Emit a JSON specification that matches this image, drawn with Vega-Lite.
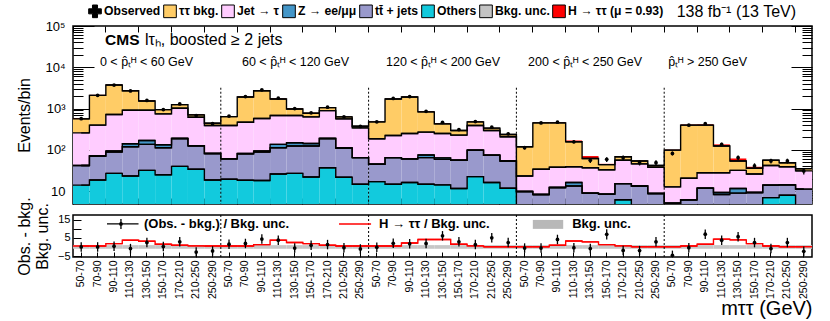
{
  "$schema": "https://vega.github.io/schema/vega-lite/v6.json",
  "background": "white",
  "autosize": {"type": "pad"},
  "padding": {"left": 15, "top": 3, "right": 0, "bottom": 0},
  "spacing": 11,
  "bounds": "flush",
  "resolve": {"legend": {"color": "independent", "shape": "independent"}},
  "config": {
    "font": "Liberation Sans",
    "view": {"stroke": "black", "strokeWidth": 1.5},
    "axis": {"grid": false, "domain": false, "tickColor": "black", "labelColor": "black", "titleColor": "black", "labelFont": "Liberation Sans", "titleFont": "Liberation Sans", "tickWidth": 1},
    "text": {"font": "Liberation Sans", "color": "black"}
  },
  "datasets": {
    "d": [
      {"i":0,"oth":14,"ttj":42,"z":42,"jet":259,"ztt":564,"h":575,"obs":570,"oe":24,"pull":0,"pe":2.6,"sr":0.5},
      {"i":1,"oth":18.7,"ttj":71,"z":71,"jet":397,"ztt":2096,"h":2150,"obs":2096,"oe":46,"pull":0,"pe":2.6,"sr":0.5},
      {"i":2,"oth":27,"ttj":89,"z":94,"jet":717,"ztt":3716,"h":3800,"obs":3716,"oe":61,"pull":0.4,"pe":2.6,"sr":1.8},
      {"i":3,"oth":23.4,"ttj":119,"z":141,"jet":912,"ztt":2716,"h":2800,"obs":2680,"oe":52,"pull":-0.9,"pe":2.6,"sr":3.7},
      {"i":4,"oth":32,"ttj":136,"z":169,"jet":912,"ztt":1531,"h":1590,"obs":1580,"oe":40,"pull":2.4,"pe":2.6,"sr":3.1},
      {"i":5,"oth":25,"ttj":113,"z":133,"jet":744,"ztt":946,"h":975,"obs":950,"oe":31,"pull":0.2,"pe":2.6,"sr":1.5},
      {"i":6,"oth":40,"ttj":189,"z":189,"jet":1019,"ztt":1248,"h":1270,"obs":1300,"oe":36,"pull":2.8,"pe":2.6,"sr":0.9},
      {"i":7,"oth":34,"ttj":126,"z":126,"jet":618,"ztt":704,"h":715,"obs":680,"oe":26,"pull":-2.8,"pe":2.6,"sr":0.6},
      {"i":8,"oth":18.7,"ttj":82,"z":82,"jet":389,"ztt":443,"h":450,"obs":430,"oe":21,"pull":-2.2,"pe":2.6,"sr":0.5},
      {"i":9,"oth":19.5,"ttj":61,"z":61,"jet":389,"ztt":641,"h":650,"obs":660,"oe":26,"pull":1.5,"pe":2.6,"sr":0.5},
      {"i":10,"oth":18.4,"ttj":81,"z":82,"jet":469,"ztt":1910,"h":1960,"obs":1960,"oe":44,"pull":1.9,"pe":2.6,"sr":0.5},
      {"i":11,"oth":18.1,"ttj":89,"z":94,"jet":574,"ztt":2716,"h":2780,"obs":2850,"oe":53,"pull":4.3,"pe":2.6,"sr":1.3},
      {"i":12,"oth":26,"ttj":113,"z":136,"jet":678,"ztt":1710,"h":1760,"obs":1790,"oe":42,"pull":3.7,"pe":2.6,"sr":3.7},
      {"i":13,"oth":27,"ttj":124,"z":149,"jet":678,"ztt":982,"h":1020,"obs":1000,"oe":32,"pull":-0.6,"pe":2.6,"sr":2.4},
      {"i":14,"oth":22,"ttj":124,"z":143,"jet":630,"ztt":773,"h":790,"obs":790,"oe":28,"pull":0.9,"pe":2.6,"sr":1.8},
      {"i":15,"oth":37,"ttj":189,"z":189,"jet":895,"ztt":1057,"h":1075,"obs":1080,"oe":33,"pull":1.3,"pe":2.6,"sr":0.9},
      {"i":16,"oth":21.7,"ttj":111,"z":111,"jet":564,"ztt":630,"h":640,"obs":635,"oe":25,"pull":-0.4,"pe":2.6,"sr":0.5},
      {"i":17,"oth":14.7,"ttj":65,"z":65,"jet":342,"ztt":375,"h":380,"obs":370,"oe":19,"pull":-1.1,"pe":2.6,"sr":0.5},
      {"i":18,"oth":17.1,"ttj":45,"z":45,"jet":186,"ztt":477,"h":485,"obs":480,"oe":22,"pull":-0.2,"pe":2.6,"sr":0.5},
      {"i":19,"oth":14.7,"ttj":65,"z":65,"jet":224,"ztt":1710,"h":1750,"obs":1760,"oe":42,"pull":2.0,"pe":2.6,"sr":0.5},
      {"i":20,"oth":16.2,"ttj":61,"z":61,"jet":250,"ztt":1910,"h":1960,"obs":1960,"oe":44,"pull":1.7,"pe":2.6,"sr":2.2},
      {"i":21,"oth":14.7,"ttj":65,"z":75,"jet":269,"ztt":832,"h":860,"obs":860,"oe":29,"pull":1.9,"pe":2.6,"sr":4.1},
      {"i":22,"oth":14.2,"ttj":59,"z":64,"jet":250,"ztt":427,"h":445,"obs":465,"oe":22,"pull":6.1,"pe":2.6,"sr":4.1},
      {"i":23,"oth":11.6,"ttj":56,"z":56,"jet":228,"ztt":295,"h":300,"obs":310,"oe":18,"pull":2.8,"pe":2.6,"sr":1.5},
      {"i":24,"oth":22.6,"ttj":99,"z":99,"jet":389,"ztt":477,"h":485,"obs":485,"oe":22,"pull":1.3,"pe":2.6,"sr":0.6},
      {"i":25,"oth":16.2,"ttj":74,"z":74,"jet":295,"ztt":336,"h":340,"obs":355,"oe":19,"pull":5.0,"pe":2.6,"sr":0.1},
      {"i":26,"oth":11.8,"ttj":54,"z":54,"jet":208,"ztt":236,"h":240,"obs":245,"oe":16,"pull":2.4,"pe":2.6,"sr":0.1},
      {"i":27,"oth":2,"ttj":9.8,"z":9.8,"jet":23.4,"ztt":119,"h":121,"obs":113,"oe":11,"pull":-0.6,"pe":2.6,"sr":0.1},
      {"i":28,"oth":2,"ttj":8.3,"z":8.3,"jet":34,"ztt":452,"h":460,"obs":450,"oe":21,"pull":-0.6,"pe":2.6,"sr":0.1},
      {"i":29,"oth":2,"ttj":12.3,"z":12.3,"jet":38,"ztt":452,"h":465,"obs":470,"oe":22,"pull":4.1,"pe":2.6,"sr":0.9},
      {"i":30,"oth":2,"ttj":13.4,"z":16.2,"jet":39,"ztt":157,"h":169,"obs":157,"oe":13,"pull":-0.4,"pe":2.6,"sr":3.3},
      {"i":31,"oth":2,"ttj":9.0,"z":9.0,"jet":37,"ztt":62,"h":71,"obs":56,"oe":7.5,"pull":-0.9,"pe":2.6,"sr":2.8},
      {"i":32,"oth":2,"ttj":8.5,"z":8.5,"jet":33,"ztt":44,"h":46,"obs":59,"oe":7.7,"pull":6.9,"pe":2.8,"sr":1.3},
      {"i":33,"oth":6.2,"ttj":15.3,"z":15.3,"jet":56,"ztt":68,"h":70,"obs":65,"oe":8,"pull":-1.9,"pe":2.6,"sr":0.6},
      {"i":34,"oth":2,"ttj":13.4,"z":13.4,"jet":46,"ztt":54,"h":55,"obs":49,"oe":7,"pull":-2.0,"pe":2.6,"sr":0.1},
      {"i":35,"oth":2,"ttj":8.8,"z":8.8,"jet":38,"ztt":42,"h":43,"obs":49,"oe":7,"pull":2.8,"pe":2.6,"sr":0.1},
      {"i":36,"oth":2,"ttj":5.1,"z":5.1,"jet":12.7,"ztt":99,"h":101,"obs":82,"oe":9,"pull":-4.6,"pe":2.6,"sr":0.1},
      {"i":37,"oth":2,"ttj":6.2,"z":6.2,"jet":20.6,"ztt":397,"h":410,"obs":397,"oe":20,"pull":-0.4,"pe":2.6,"sr":0.5},
      {"i":38,"oth":2,"ttj":11.8,"z":11.8,"jet":28,"ztt":397,"h":415,"obs":430,"oe":21,"pull":7.0,"pe":2.6,"sr":1.5},
      {"i":39,"oth":2,"ttj":8.3,"z":9.3,"jet":28,"ztt":124,"h":136,"obs":136,"oe":12,"pull":3.7,"pe":2.6,"sr":4.3},
      {"i":40,"oth":2,"ttj":9.0,"z":11.6,"jet":32,"ztt":54,"h":62,"obs":65,"oe":8,"pull":5.6,"pe":2.6,"sr":3.9},
      {"i":41,"oth":2,"ttj":9.3,"z":9.3,"jet":26,"ztt":36,"h":39,"obs":41,"oe":6.4,"pull":2.4,"pe":2.6,"sr":1.8},
      {"i":42,"oth":7.0,"ttj":14.0,"z":14.0,"jet":42,"ztt":56,"h":57,"obs":54,"oe":7.3,"pull":-0.9,"pe":2.6,"sr":0.5},
      {"i":43,"oth":8.0,"ttj":14.2,"z":14.2,"jet":39,"ztt":49,"h":51,"obs":54,"oe":7.3,"pull":2.4,"pe":2.6,"sr":0.1},
      {"i":44,"oth":2,"ttj":11.2,"z":11.2,"jet":31,"ztt":35,"h":36,"obs":31,"oe":5.6,"pull":-2.4,"pe":2.6,"sr":0.1}
    ]
  },
  "vconcat": [
    {
      "width": 739,
      "height": 178,
      "data": {"name": "d"},
      "resolve": {"axis": {"x": "independent", "y": "independent"}},
      "layer": [
        {
          "mark": {"type": "bar", "color": "#12cadd", "clip": true},
          "encoding": {
            "x": {"field": "i", "type": "ordinal", "scale": {"type": "band", "domain": [0,1,2,3,4,5,6,7,8,9,10,11,12,13,14,15,16,17,18,19,20,21,22,23,24,25,26,27,28,29,30,31,32,33,34,35,36,37,38,39,40,41,42,43,44], "paddingInner": 0, "paddingOuter": 0},
              "axis": {"orient": "bottom", "values": [0,2,4,6,8,10,12,14,16,18,20,22,24,26,28,30,32,34,36,38,40,42,44], "bandPosition": 0, "labels": false, "tickSize": -6, "title": null, "minExtent": 0}},
            "y": {"field": "oth", "type": "quantitative", "scale": {"type": "log", "domain": [4.9, 100000], "nice": false},
              "axis": {"orient": "left", "values": [10,100,1000,10000,100000], "labelExpr": "datum.value < 50 ? '10' : datum.value < 500 ? '10²' : datum.value < 5000 ? '10³' : datum.value < 50000 ? '10⁴' : '10⁵'", "tickSize": -21, "labelPadding": 29, "labelFontSize": 13, "title": "Events/bin", "titleFontSize": 16, "titleFontWeight": "normal", "titlePadding": 12, "minExtent": 0}},
            "y2": {"datum": 4.9}
          }
        },
        {
          "mark": {"type": "bar", "color": "#9999cc", "clip": true},
          "encoding": {
            "x": {"field": "i", "type": "ordinal",
              "axis": {"orient": "top", "values": [0,2,4,6,8,10,12,14,16,18,20,22,24,26,28,30,32,34,36,38,40,42,44], "bandPosition": 0, "labels": false, "tickSize": -6, "title": null, "minExtent": 0}},
            "y": {"field": "ttj", "type": "quantitative",
              "axis": {"orient": "left", "values": [6,7,8,9,20,30,40,50,60,70,80,90,200,300,400,500,600,700,800,900,2000,3000,4000,5000,6000,7000,8000,9000,20000,30000,40000,50000,60000,70000,80000,90000], "labels": false, "tickSize": -10, "title": null, "minExtent": 0}},
            "y2": {"field": "oth"}
          }
        },
        {
          "mark": {"type": "bar", "color": "#4496c8", "clip": true},
          "encoding": {
            "x": {"field": "i", "type": "ordinal", "axis": null},
            "y": {"field": "z", "type": "quantitative",
              "axis": {"orient": "right", "values": [10,100,1000,10000,100000], "labels": false, "tickSize": -21, "title": null, "minExtent": 0}},
            "y2": {"field": "ttj"}
          }
        },
        {
          "mark": {"type": "bar", "color": "#ffccff", "clip": true},
          "encoding": {
            "x": {"field": "i", "type": "ordinal", "axis": null},
            "y": {"field": "jet", "type": "quantitative",
              "axis": {"orient": "right", "values": [6,7,8,9,20,30,40,50,60,70,80,90,200,300,400,500,600,700,800,900,2000,3000,4000,5000,6000,7000,8000,9000,20000,30000,40000,50000,60000,70000,80000,90000], "labels": false, "tickSize": -10, "title": null, "minExtent": 0}},
            "y2": {"field": "z"}
          }
        },
        {
          "mark": {"type": "bar", "color": "#ffcc66", "clip": true},
          "encoding": {
            "x": {"field": "i", "type": "ordinal", "axis": null},
            "y": {"field": "ztt", "type": "quantitative", "axis": null},
            "y2": {"field": "jet"}
          }
        },
        {
          "mark": {"type": "bar", "color": "#ff0000", "clip": true},
          "encoding": {
            "x": {"field": "i", "type": "ordinal", "axis": null},
            "y": {"field": "h", "type": "quantitative", "axis": null},
            "y2": {"field": "ztt"}
          }
        },
        {
          "transform": [{"fold": ["oth", "ttj", "z", "jet", "ztt"], "as": ["comp", "top"]}],
          "mark": {"type": "bar", "fillOpacity": 0, "stroke": "black", "strokeWidth": 1.4, "clip": true},
          "encoding": {
            "x": {"field": "i", "type": "ordinal", "axis": null},
            "y": {"field": "top", "type": "quantitative", "axis": null},
            "y2": {"field": "top"},
            "detail": {"field": "comp", "type": "nominal"}
          }
        },
        {
          "transform": [{"fold": ["oth", "ttj", "z", "jet", "ztt"], "as": ["comp", "top"]}],
          "mark": {"type": "line", "interpolate": "step", "color": "black", "strokeWidth": 1.4, "clip": true},
          "encoding": {
            "x": {"field": "i", "type": "ordinal", "axis": null},
            "y": {"field": "top", "type": "quantitative", "axis": null},
            "detail": {"field": "comp", "type": "nominal"}
          }
        },
        {
          "mark": {"type": "errorbar", "color": "black", "thickness": 1.3},
          "encoding": {
            "x": {"field": "i", "type": "ordinal", "axis": null},
            "y": {"field": "obs", "type": "quantitative", "axis": null},
            "yError": {"field": "oe"}
          }
        },
        {
          "mark": {"type": "point", "filled": true, "color": "black", "size": 14, "opacity": 1},
          "encoding": {
            "x": {"field": "i", "type": "ordinal", "axis": null},
            "y": {"field": "obs", "type": "quantitative", "axis": null}
          }
        },
        {
          "data": {"values": [{"s": 9}, {"s": 18}, {"s": 27}, {"s": 36}]},
          "mark": {"type": "rule", "color": "black", "strokeWidth": 1, "strokeDash": [2, 2]},
          "encoding": {
            "x": {"field": "s", "type": "ordinal", "bandPosition": 0, "axis": null},
            "y": {"datum": 3200, "type": "quantitative", "axis": null},
            "y2": {"datum": 4.9}
          }
        },
        {
          "data": {"values": [{}]},
          "mark": {"type": "text", "text": "CMS", "fontSize": 15.5, "fontWeight": "bold", "align": "left", "baseline": "middle"},
          "encoding": {
            "x": {"datum": 1, "type": "ordinal", "bandPosition": 0.95, "axis": null},
            "y": {"datum": 46000, "type": "quantitative", "axis": null}
          }
        },
        {
          "data": {"values": [{}]},
          "mark": {"type": "text", "text": "lτₕ, boosted ≥ 2 jets", "fontSize": 16, "align": "left", "baseline": "middle"},
          "encoding": {
            "x": {"datum": 4, "type": "ordinal", "bandPosition": 0.38, "axis": null},
            "y": {"datum": 46000, "type": "quantitative", "axis": null}
          }
        },
        {
          "data": {"values": [{}]},
          "mark": {"type": "text", "text": "0 < p̂ₜᴴ < 60 GeV", "fontSize": 12.5, "align": "left", "baseline": "middle"},
          "encoding": {
            "x": {"datum": 1, "type": "ordinal", "bandPosition": 0.64, "axis": null},
            "y": {"datum": 13600, "type": "quantitative", "axis": null}
          }
        },
        {
          "data": {"values": [{}]},
          "mark": {"type": "text", "text": "60 < p̂ₜᴴ < 120 GeV", "fontSize": 12.5, "align": "left", "baseline": "middle"},
          "encoding": {
            "x": {"datum": 10, "type": "ordinal", "bandPosition": 0.29, "axis": null},
            "y": {"datum": 13600, "type": "quantitative", "axis": null}
          }
        },
        {
          "data": {"values": [{}]},
          "mark": {"type": "text", "text": "120 < p̂ₜᴴ < 200 GeV", "fontSize": 12.5, "align": "left", "baseline": "middle"},
          "encoding": {
            "x": {"datum": 19, "type": "ordinal", "bandPosition": 0.06, "axis": null},
            "y": {"datum": 13600, "type": "quantitative", "axis": null}
          }
        },
        {
          "data": {"values": [{}]},
          "mark": {"type": "text", "text": "200 < p̂ₜᴴ < 250 GeV", "fontSize": 12.5, "align": "left", "baseline": "middle"},
          "encoding": {
            "x": {"datum": 27, "type": "ordinal", "bandPosition": 0.71, "axis": null},
            "y": {"datum": 13600, "type": "quantitative", "axis": null}
          }
        },
        {
          "data": {"values": [{}]},
          "mark": {"type": "text", "text": "p̂ₜᴴ > 250 GeV", "fontSize": 12.5, "align": "left", "baseline": "middle"},
          "encoding": {
            "x": {"datum": 36, "type": "ordinal", "bandPosition": 0.24, "axis": null},
            "y": {"datum": 13600, "type": "quantitative", "axis": null}
          }
        },
        {
          "data": {"values": [{}]},
          "mark": {"type": "text", "text": "138 fb⁻¹ (13 TeV)", "fontSize": 16, "align": "right", "baseline": "middle"},
          "encoding": {
            "x": {"datum": 44, "type": "ordinal", "bandPosition": 0.03, "axis": null},
            "y": {"datum": 217000, "type": "quantitative", "axis": null}
          }
        },
        {
          "data": {"values": [{"name": "Observed"}, {"name": "ττ bkg."}, {"name": "Jet → τ"}, {"name": "Z → ee/μμ"}, {"name": "tt̄ + jets"}, {"name": "Others"}, {"name": "Bkg. unc."}, {"name": "H → ττ (μ = 0.93)"}]},
          "mark": {"type": "point", "filled": true, "clip": true, "opacity": 1},
          "encoding": {
            "x": {"datum": 0, "type": "ordinal", "axis": null},
            "y": {"datum": 1, "type": "quantitative", "axis": null},
            "color": {"field": "name", "type": "nominal",
              "scale": {"domain": ["Observed", "ττ bkg.", "Jet → τ", "Z → ee/μμ", "tt̄ + jets", "Others", "Bkg. unc.", "H → ττ (μ = 0.93)"], "range": ["black", "#ffcc66", "#ffccff", "#4496c8", "#9999cc", "#12cadd", "#c4c4c4", "#ff0000"]},
              "legend": {"orient": "none", "legendX": 15, "legendY": -22, "direction": "horizontal", "title": null, "symbolSize": 160, "symbolStrokeColor": "black", "symbolStrokeWidth": 1, "labelFontSize": 12.2, "labelFontWeight": "bold", "labelFont": "Liberation Sans", "labelColor": "black", "columnPadding": 0, "labelOffset": 2, "padding": 0}},
            "shape": {"field": "name", "type": "nominal",
              "scale": {"domain": ["Observed", "ττ bkg.", "Jet → τ", "Z → ee/μμ", "tt̄ + jets", "Others", "Bkg. unc.", "H → ττ (μ = 0.93)"], "range": ["cross", "square", "square", "square", "square", "square", "square", "square"]},
              "legend": {"orient": "none", "legendX": 15, "legendY": -22, "direction": "horizontal", "title": null, "symbolSize": 160, "symbolStrokeColor": "black", "symbolStrokeWidth": 1, "labelFontSize": 12.2, "labelFontWeight": "bold", "labelFont": "Liberation Sans", "labelColor": "black", "columnPadding": 0, "labelOffset": 2, "padding": 0}}
          }
        }
      ]
    },
    {
      "width": 739,
      "height": 42,
      "data": {"name": "d"},
      "resolve": {"axis": {"x": "independent", "y": "independent"}},
      "layer": [
        {
          "mark": {"type": "bar", "color": "#c6c6c6"},
          "encoding": {
            "x": {"field": "i", "type": "ordinal", "scale": {"type": "band", "domain": [0,1,2,3,4,5,6,7,8,9,10,11,12,13,14,15,16,17,18,19,20,21,22,23,24,25,26,27,28,29,30,31,32,33,34,35,36,37,38,39,40,41,42,43,44], "paddingInner": 0, "paddingOuter": 0},
              "axis": {"orient": "bottom", "values": [0,1,2,3,4,5,6,7,8,9,10,11,12,13,14,15,16,17,18,19,20,21,22,23,24,25,26,27,28,29,30,31,32,33,34,35,36,37,38,39,40,41,42,43,44], "labelExpr": "['50-70','70-90','90-110','110-130','130-150','150-170','170-210','210-250','250-290'][datum.value % 9]", "labelAngle": 270, "labelFontSize": 10.5, "labelPadding": 8, "tickSize": -5, "bandPosition": 0.5, "title": "mττ (GeV)", "titleFontSize": 20, "titleFontWeight": "normal", "titleAnchor": "end", "titlePadding": 0, "minExtent": 0}},
            "y": {"datum": -1, "type": "quantitative", "scale": {"domain": [-5.5, 17.5], "nice": false, "zero": false},
              "axis": {"orient": "left", "values": [-5, 0, 5, 10, 15], "labelFontSize": 11, "tickSize": -8, "labelPadding": 11, "title": ["Obs. - bkg.", "Bkg. unc."], "titleFontSize": 16, "titleFontWeight": "normal", "titlePadding": 7, "minExtent": 0}},
            "y2": {"datum": 1}
          }
        },
        {
          "mark": {"type": "bar", "fillOpacity": 0, "stroke": "#ff0000", "strokeWidth": 1.4, "clip": true},
          "encoding": {
            "x": {"field": "i", "type": "ordinal", "axis": null},
            "y": {"field": "sr", "type": "quantitative", "axis": null},
            "y2": {"field": "sr"}
          }
        },
        {
          "mark": {"type": "line", "interpolate": "step", "color": "#ff0000", "strokeWidth": 1.4, "clip": true},
          "encoding": {
            "x": {"field": "i", "type": "ordinal", "axis": null},
            "y": {"field": "sr", "type": "quantitative", "axis": null}
          }
        },
        {
          "mark": {"type": "errorbar", "color": "black", "thickness": 1.3, "clip": true},
          "encoding": {
            "x": {"field": "i", "type": "ordinal", "axis": null},
            "y": {"field": "pull", "type": "quantitative", "axis": null},
            "yError": {"field": "pe"}
          }
        },
        {
          "mark": {"type": "point", "filled": true, "color": "black", "size": 14, "opacity": 1, "clip": true},
          "encoding": {
            "x": {"field": "i", "type": "ordinal", "axis": null},
            "y": {"field": "pull", "type": "quantitative", "axis": null}
          }
        },
        {
          "data": {"values": [{"s": 9}, {"s": 18}, {"s": 27}, {"s": 36}]},
          "mark": {"type": "rule", "color": "black", "strokeWidth": 1, "strokeDash": [2, 2]},
          "encoding": {
            "x": {"field": "s", "type": "ordinal", "bandPosition": 0, "axis": null},
            "y": {"datum": -5.5, "type": "quantitative", "axis": null},
            "y2": {"datum": 17.5}
          }
        },
        {
          "data": {"values": [{}]},
          "mark": {"type": "rule", "color": "black", "strokeWidth": 1.3},
          "encoding": {
            "x": {"datum": 2, "type": "ordinal", "bandPosition": 0.07, "axis": null},
            "x2": {"datum": 3, "bandPosition": 0.99},
            "y": {"datum": 12.6, "type": "quantitative", "axis": null}
          }
        },
        {
          "data": {"values": [{}]},
          "mark": {"type": "rule", "color": "black", "strokeWidth": 1.3},
          "encoding": {
            "x": {"datum": 2, "type": "ordinal", "bandPosition": 0.92, "axis": null},
            "y": {"datum": 9.9, "type": "quantitative", "axis": null},
            "y2": {"datum": 15.3}
          }
        },
        {
          "data": {"values": [{}]},
          "mark": {"type": "point", "filled": true, "color": "black", "size": 14, "opacity": 1},
          "encoding": {
            "x": {"datum": 2, "type": "ordinal", "bandPosition": 0.92, "axis": null},
            "y": {"datum": 12.6, "type": "quantitative", "axis": null}
          }
        },
        {
          "data": {"values": [{}]},
          "mark": {"type": "text", "text": "(Obs. - bkg.) / Bkg. unc.", "fontSize": 13, "fontWeight": "bold", "align": "left", "baseline": "middle"},
          "encoding": {
            "x": {"datum": 4, "type": "ordinal", "bandPosition": 0.32, "axis": null},
            "y": {"datum": 12.6, "type": "quantitative", "axis": null}
          }
        },
        {
          "data": {"values": [{}]},
          "mark": {"type": "rule", "color": "#ff0000", "strokeWidth": 1.5},
          "encoding": {
            "x": {"datum": 16, "type": "ordinal", "bandPosition": 0.2, "axis": null},
            "x2": {"datum": 18, "bandPosition": 0.15},
            "y": {"datum": 12.6, "type": "quantitative", "axis": null}
          }
        },
        {
          "data": {"values": [{}]},
          "mark": {"type": "text", "text": "H → ττ / Bkg. unc.", "fontSize": 13, "fontWeight": "bold", "align": "left", "baseline": "middle"},
          "encoding": {
            "x": {"datum": 18, "type": "ordinal", "bandPosition": 0.64, "axis": null},
            "y": {"datum": 12.6, "type": "quantitative", "axis": null}
          }
        },
        {
          "data": {"values": [{}]},
          "mark": {"type": "rect", "color": "#b8b8b8"},
          "encoding": {
            "x": {"datum": 28, "type": "ordinal", "bandPosition": 0, "axis": null},
            "x2": {"datum": 29, "bandPosition": 0.85},
            "y": {"datum": 9.9, "type": "quantitative", "axis": null},
            "y2": {"datum": 14.8}
          }
        },
        {
          "data": {"values": [{}]},
          "mark": {"type": "text", "text": "Bkg. unc.", "fontSize": 13, "fontWeight": "bold", "align": "left", "baseline": "middle"},
          "encoding": {
            "x": {"datum": 30, "type": "ordinal", "bandPosition": 0.4, "axis": null},
            "y": {"datum": 12.6, "type": "quantitative", "axis": null}
          }
        }
      ]
    }
  ]
}
